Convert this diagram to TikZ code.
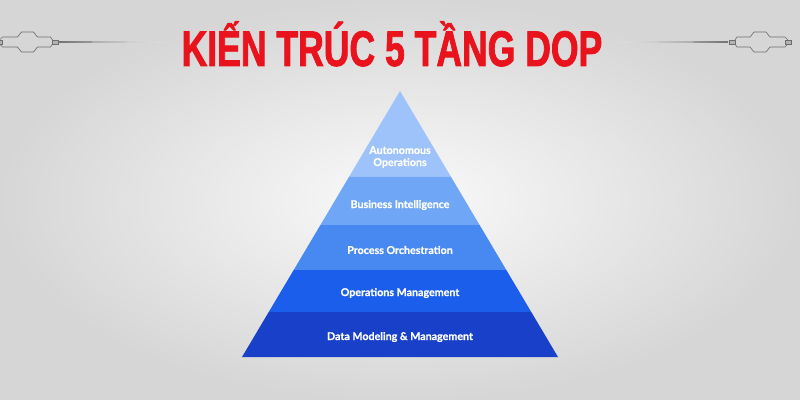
\documentclass[tikz,border=0pt]{standalone}
\usepackage{fontspec}
\setmainfont{Lato}[BoldFeatures={FakeBold=0.8}]
\newfontfamily\titlefont[FakeStretch=0.71,FakeBold=1.5]{Liberation Sans Bold}
\usepackage{tikz}
\usetikzlibrary{calc,positioning}
\definecolor{titlered}{RGB}{232,19,28}
\definecolor{layA}{RGB}{158,195,250}
\definecolor{layB}{RGB}{112,166,246}
\definecolor{layC}{RGB}{72,136,241}
\definecolor{layD}{RGB}{28,94,236}
\definecolor{layE}{RGB}{24,64,200}
\definecolor{ornline}{RGB}{110,110,110}

\begin{document}
\begin{tikzpicture}[x=0.025cm,y=-0.025cm,
  lab/.style={text=white,font=\bfseries\fontsize{7.6}{8.6}\selectfont,align=center},
  orn/.style={draw=ornline,line width=0.45pt}]
\useasboundingbox (0,0) rectangle (800,400);
\shade[inner color=gray!4,outer color=gray!32] (0,0) rectangle (800,400);

% title
\node[anchor=base,text=titlered,font=\titlefont\fontsize{35.6}{40}\selectfont] (title) at (392,66) {KIẾN TRÚC 5 TẦNG DOP};

% side ornaments
\coordinate (ornL) at (27.5,42);
\coordinate (ornR) at (760,42);
\foreach \c/\s in {ornL/1,ornR/-1}{
  \begin{scope}[shift={(\c)},xscale=\s]
  \draw[orn] (-28,-2) -- (-25,-5) -- (-10,-5) -- (-6,-10) -- (6,-10) -- (10,-5) -- (23,-5) -- (25,-2);
  \draw[orn] (-28,2) -- (-25,5) -- (-10,5) -- (-6,10) -- (6,10) -- (10,5) -- (23,5) -- (25,2);
  \draw[orn,fill=gray!60] (25,-2) rectangle (31,2);
  \draw[orn,fill=gray!60] (-25,-2) rectangle (-31,2);
  \end{scope}
}
\shade[left color=gray!90!black,right color=gray!15] (58,41) -- (167,41.8) -- (167,42.2) -- (58,43) -- cycle;
\shade[right color=gray!90!black,left color=gray!15] (728,41) -- (617,41.8) -- (617,42.2) -- (728,43) -- cycle;

% pyramid
\coordinate (apex) at (400,91);
\coordinate (bl) at (242,357);
\coordinate (br) at (558,357);
\foreach \a/\b/\col in {0/0.323/layA,0.323/0.504/layB,0.504/0.673/layC,0.673/0.831/layD,0.831/1/layE}{
  \fill[\col] ($(apex)!\a!(bl)$) -- ($(apex)!\a!(br)$) -- ($(apex)!\b!(br)$) -- ($(apex)!\b!(bl)$) -- cycle;
}
\node[lab] (auto) at (400,157) {Autonomous\\Operations};
\node[lab] (bi) at (400,205) {Business Intelligence};
\node[lab] (po) at (400,250) {Process Orchestration};
\node[lab] (om) at (400,293) {Operations Management};
\node[lab] (dm) at (400,337) {Data Modeling \& Management};
\end{tikzpicture}
\end{document}
